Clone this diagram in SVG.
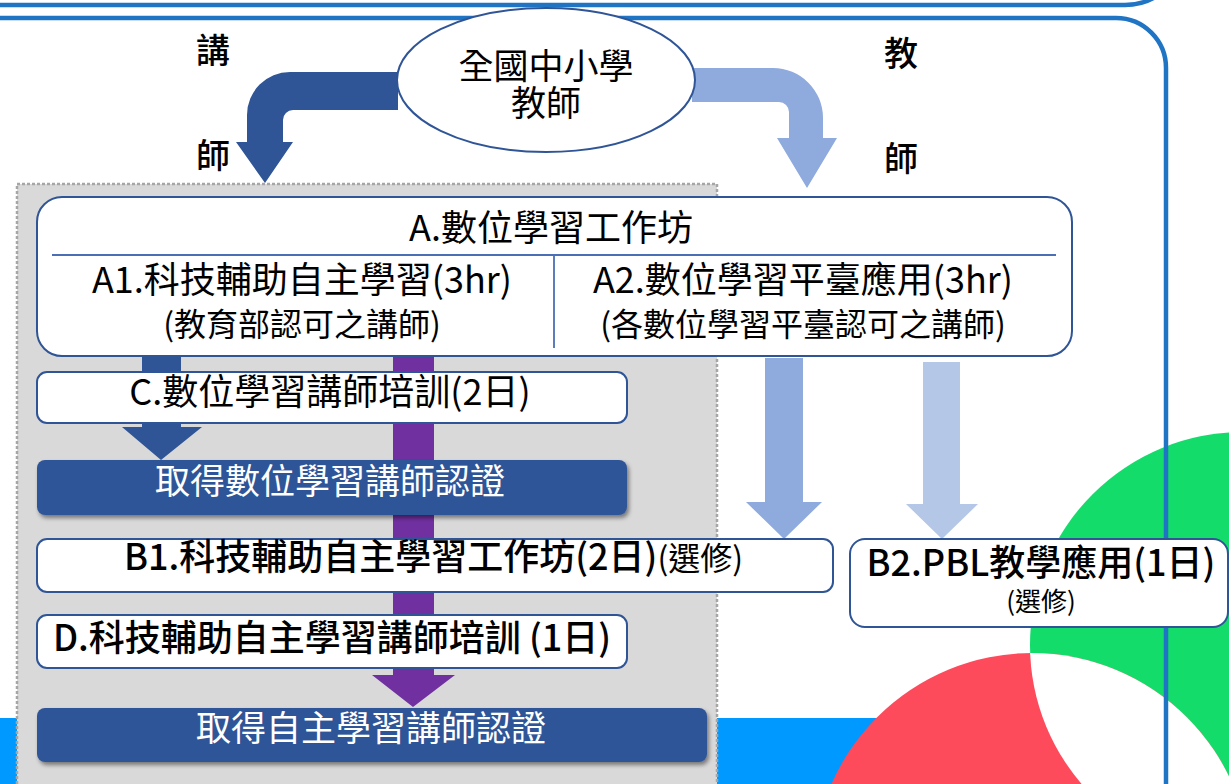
<svg xmlns="http://www.w3.org/2000/svg" width="1229" height="784" viewBox="0 0 1229 784">
<defs>
<style>
.t{font-family:"Noto Sans CJK TC","Noto Sans",sans-serif;fill:#000;font-weight:400;}
.m{font-weight:500;}
.l{font-weight:400;}
.w{fill:#fff;}
.box{fill:#fff;stroke:#2f5597;stroke-width:2;}
.dark{fill:#2f5597;filter:url(#sh);}
.frame{fill:none;stroke:#1f74c4;stroke-width:4.5;}
</style>
<filter id="sh" x="-5%" y="-20%" width="110%" height="150%">
<feDropShadow dx="2" dy="3" stdDeviation="2" flood-color="#000" flood-opacity="0.45"/>
</filter>
<clipPath id="gclip"><circle cx="1243" cy="645" r="213"/></clipPath>
</defs>
<rect width="1229" height="784" fill="#fff"/>
<g id="decor">
<rect x="0" y="718" width="900" height="70" fill="#0099ff"/>
<circle cx="1243" cy="645" r="213" fill="#14dc6b"/>
<circle cx="1032" cy="872" r="219" fill="#fe4b5c"/>
<circle cx="1032" cy="872" r="219" fill="#fff" clip-path="url(#gclip)"/>
<path class="frame" d="M -20 5 H 1125 A 60 60 0 0 0 1185 -55"/>
<path class="frame" d="M -20 18 H 1116 A 50 50 0 0 1 1166 68 V 800"/>
</g>
<g id="group-area">
<rect x="17" y="184" width="700" height="620" fill="#d9d9d9" stroke="#a6a6a6" stroke-width="2.5" stroke-dasharray="3 2"/>
</g>
<g id="connectors">
<path d="M 398 72 H 290 A 43 43 0 0 0 247 115 V 142 H 236 L 265 183 L 293 142 H 283 V 120 A 10 10 0 0 1 293 110 H 398 Z" fill="#2f5597"/>
<path d="M 692 68 H 773 A 50 50 0 0 1 823 118 V 138 H 837 L 807 188 L 777 138 H 789 V 112 A 10 10 0 0 0 779 102 H 692 Z" fill="#8faadc"/>
<path d="M 142 356 H 181 V 427 H 202 L 161 460 L 122 427 H 142 Z" fill="#2f5597"/>
<path d="M 393 356 H 434 V 675 H 455 L 413 707 L 372 675 H 393 Z" fill="#7030a0"/>
<path d="M 765 358 H 803 V 502 H 822 L 784 539 L 746 502 H 765 Z" fill="#8faadc"/>
<path d="M 923 362 H 960 V 504 H 978 L 942 539 L 906 504 H 923 Z" fill="#b4c7e7"/>
</g>
<g id="labels">
<text class="t m" x="213" y="63" font-size="34" text-anchor="middle">講</text>
<text class="t m" x="213" y="168" font-size="34" text-anchor="middle">師</text>
<text class="t m" x="901" y="66" font-size="34" text-anchor="middle">教</text>
<text class="t m" x="901" y="171" font-size="34" text-anchor="middle">師</text>
</g>
<g id="node-teachers">
<ellipse cx="546" cy="80" rx="149" ry="72" fill="#fff" stroke="#2f5597" stroke-width="2"/>
<text class="t" x="546" y="79" font-size="35" text-anchor="middle">全國中小學</text>
<text class="t" x="546" y="116" font-size="35" text-anchor="middle">教師</text>
</g>
<g id="node-A">
<rect class="box" x="37" y="197" width="1035" height="159" rx="25"/>
<line x1="52" y1="255" x2="1056" y2="255" stroke="#4a6fb5" stroke-width="1.8"/>
<line x1="554" y1="255" x2="554" y2="348" stroke="#4a6fb5" stroke-width="1.8"/>
<text class="t" x="551" y="241" font-size="36" text-anchor="middle">A.數位學習工作坊</text>
<text class="t" x="302" y="293" font-size="36" text-anchor="middle">A1.科技輔助自主學習(3hr)</text>
<text class="t" x="302" y="336" font-size="32" text-anchor="middle">(教育部認可之講師)</text>
<text class="t" x="803" y="293" font-size="36" text-anchor="middle">A2.數位學習平臺應用(3hr)</text>
<text class="t" x="803" y="336" font-size="32" text-anchor="middle">(各數位學習平臺認可之講師)</text>
</g>
<g id="node-C">
<rect class="box" x="37" y="372" width="590" height="51" rx="10"/>
<text class="t" x="330" y="405" font-size="36" text-anchor="middle">C.數位學習講師培訓(2日)</text>
</g>
<g id="node-cert1">
<rect class="dark" x="37" y="460" width="590" height="55" rx="8"/>
<text class="t w" x="330" y="494" font-size="35" text-anchor="middle">取得數位學習講師認證</text>
</g>
<g id="node-B1">
<rect class="box" x="37" y="539" width="796" height="53" rx="10"/>
<text class="t m" x="124" y="570" font-size="36">B1.科技輔助自主學習工作坊(2日)<tspan class="l" font-size="32">(選修)</tspan></text>
</g>
<g id="node-B2">
<rect class="box" x="850" y="539" width="378" height="88" rx="15"/>
<text class="t m" x="1041" y="576" font-size="36" text-anchor="middle">B2.PBL教學應用(1日)</text>
<text class="t l" x="1041" y="611" font-size="26" fill="#222" text-anchor="middle">(選修)</text>
</g>
<g id="node-D">
<rect class="box" x="37" y="615" width="590" height="53" rx="10"/>
<text class="t m" x="332" y="651" font-size="36" text-anchor="middle">D.科技輔助自主學習講師培訓 (1日)</text>
</g>
<g id="node-cert2">
<rect class="dark" x="37" y="708" width="670" height="54" rx="8"/>
<text class="t w" x="371" y="741" font-size="35" text-anchor="middle">取得自主學習講師認證</text>
</g>
</svg>
